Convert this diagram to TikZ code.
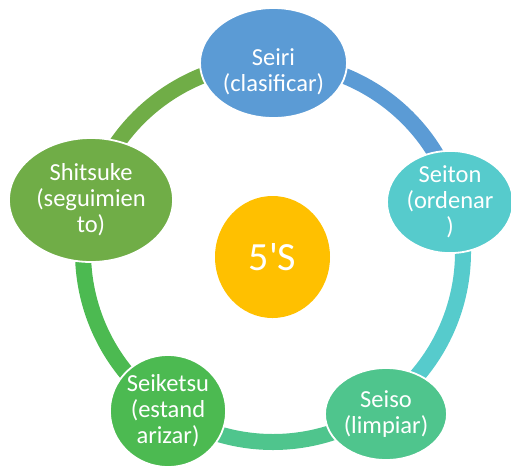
\documentclass[tikz,border=0pt]{standalone}
\usepackage{fontspec}
\setmainfont{Carlito}
% same face without TeX ligatures, so ' stays a straight apostrophe
\newfontfamily\plaincarlito{Carlito}
\usetikzlibrary{shapes.geometric}
\definecolor{cSeiri}{HTML}{5B9BD5}
\definecolor{cSeiton}{HTML}{56CBCC}
\definecolor{cSeiso}{HTML}{4FC58D}
\definecolor{cSeiketsu}{HTML}{4CBA51}
\definecolor{cShitsuke}{HTML}{70AD47}
\definecolor{cCenter}{HTML}{FFC000}
\begin{document}
\begin{tikzpicture}[x=1pt,y=-1pt,
  stage/.style={ellipse, draw=white, line width=1.8pt, text=white, align=center,
    inner sep=0pt, font=\fontsize{24.5}{26}\selectfont},
  stagetext/.style={text=white, align=center, inner sep=0pt, font=\fontsize{24.5}{26}\selectfont},
  ringseg/.style={line width=16pt},
]
\useasboundingbox (0,0) rectangle (511,472);
\coordinate (rc) at (273,252);
% ring segments, clockwise from the top
\draw[ringseg, cSeiri]    (rc) ++(-90:190) arc[start angle=-90, end angle=-18, radius=190];
\draw[ringseg, cSeiton]   (rc) ++(-18:190) arc[start angle=-18, end angle=54, radius=190];
\draw[ringseg, cSeiso]    (rc) ++(54:190) arc[start angle=54, end angle=126, radius=190];
\draw[ringseg, cSeiketsu] (rc) ++(126:190) arc[start angle=126, end angle=198, radius=190];
\draw[ringseg, cShitsuke] (rc) ++(198:190) arc[start angle=198, end angle=270, radius=190];
% stages
\node[stage, fill=cSeiri, minimum width=147pt, minimum height=110pt] (seiri) at (273.5,63) {};
\node[stagetext] (seiri-text) at ([yshift=-9pt]seiri.center) {Seiri\\(clasificar)};
\node[stage, fill=cSeiton, minimum width=126pt, minimum height=96pt] (seiton) at (450,202) {Seiton\\(ordenar\\)};
\node[stage, fill=cSeiso, minimum width=122pt, minimum height=92pt] (seiso) at (386,414) {Seiso\\(limpiar)};
\node[stage, fill=cSeiketsu, minimum width=110pt, minimum height=112pt] (seiketsu) at (168,411) {Seiketsu\\(estand\\arizar)};
\node[stage, fill=cShitsuke, minimum width=164pt, minimum height=124pt] (shitsuke) at (91,200) {Shitsuke\\(seguimien\\to)};
% centre
\node[ellipse, fill=cCenter, text=white, inner sep=0pt, minimum width=115pt, minimum height=122pt,
  font=\plaincarlito\fontsize{40}{44}\selectfont] (core) at (272.5,257) {5'S};
\end{tikzpicture}
\end{document}
